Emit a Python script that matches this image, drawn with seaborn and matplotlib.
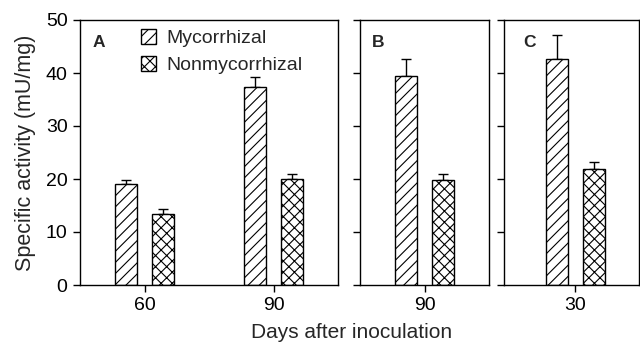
import pandas as pd
import matplotlib
matplotlib.use("Agg")
import matplotlib.pyplot as plt
import seaborn as sns
from matplotlib.patches import Patch

# values
groups = ["Mycorrhizal", "Nonmycorrhizal"]

days_a = ["60", "90"]
myc_a = [19.0, 37.3]
myc_a_err = [0.9, 2.0]
non_a = [13.4, 20.0]
non_a_err = [0.9, 0.9]

days_b = ["90"]
myc_b = [39.4]
myc_b_err = [3.2]
non_b = [19.9]
non_b_err = [1.1]

days_c = ["30"]
myc_c = [42.6]
myc_c_err = [4.6]
non_c = [21.8]
non_c_err = [1.5]

yticks = [0, 10, 20, 30, 40, 50]

sns.set_style("ticks")
plt.rcParams["font.family"] = ["Liberation Sans", "DejaVu Sans"]
plt.rcParams["hatch.linewidth"] = 0.8
plt.rcParams["hatch.color"] = "black"

hatches = ["///", "xxx"]
FS = 14


def make_df(days, myc, non):
    rows = []
    for d, v in zip(days, myc):
        rows.append({"day": d, "group": groups[0], "value": v})
    for d, v in zip(days, non):
        rows.append({"day": d, "group": groups[1], "value": v})
    return pd.DataFrame(rows)


def draw_panel(ax, days, myc, myc_err, non, non_err, letter, xlim, letter_x, show_labels):
    df = make_df(days, myc, non)
    sns.barplot(data=df, x="day", y="value", hue="group", order=days, hue_order=groups,
                palette=["white", "white"], edgecolor="black", linewidth=1,
                width=0.58, gap=0.414, errorbar=None, legend=False, ax=ax, zorder=2)
    for cont, h, errs in zip(ax.containers, hatches, [myc_err, non_err]):
        for bar, e in zip(cont, errs):
            bar.set_hatch(h)
            x = bar.get_x() + bar.get_width() / 2
            ax.errorbar([x], [bar.get_height()], yerr=[[0], [e]], fmt="none",
                        ecolor="black", elinewidth=1, capsize=3.5, capthick=1, zorder=1)
    ax.set_xlim(*xlim)
    ax.set_ylim(0, 50)
    ax.set_yticks(yticks)
    if not show_labels:
        ax.set_yticklabels([])
    ax.set_xlabel("")
    ax.set_ylabel("")
    for s in ax.spines.values():
        s.set_visible(True)
        s.set_linewidth(1)
        s.set_color("black")
    ax.tick_params(axis="both", direction="out", length=5, width=1, labelsize=FS,
                   colors="black")
    ax.tick_params(axis="y", pad=4)
    ax.tick_params(axis="x", pad=4)
    ax.text(letter_x, 0.915, letter, transform=ax.transAxes, fontsize=12.5,
            fontweight="bold", va="center", ha="left")


fig = plt.figure(figsize=(6.4, 3.42), dpi=100)
W, H = 640, 342
bottom = 57 / H
height = 265 / H
ax_a = fig.add_axes([80 / W, bottom, 258 / W, height])
ax_b = fig.add_axes([360 / W, bottom, 129 / W, height])
ax_c = fig.add_axes([504 / W, bottom, 134.5 / W, height])

draw_panel(ax_a, days_a, myc_a, myc_a_err, non_a, non_a_err, "A", (-0.5, 1.5), 0.048, True)
draw_panel(ax_b, days_b, myc_b, myc_b_err, non_b, non_b_err, "B", (-0.5, 0.5), 0.09, False)
draw_panel(ax_c, days_c, myc_c, myc_c_err, non_c, non_c_err, "C", (-0.555, 0.49), 0.14, False)

ax_a.set_ylabel("Specific activity (mU/mg)", fontsize=15.5, labelpad=7)

handles = [Patch(facecolor="white", edgecolor="black", hatch=h, linewidth=1) for h in hatches]
ax_a.legend(handles, groups, loc="upper left", bbox_to_anchor=(0.236, 0.966),
            frameon=False, fontsize=FS, borderpad=0, borderaxespad=0,
            handlelength=0.77, handleheight=0.81, handletextpad=0.55, labelspacing=0.46)

fig.text(352 / W, 4 / H, "Days after inoculation", fontsize=15, ha="center", va="baseline")

fig.savefig("out.png", dpi=100)
